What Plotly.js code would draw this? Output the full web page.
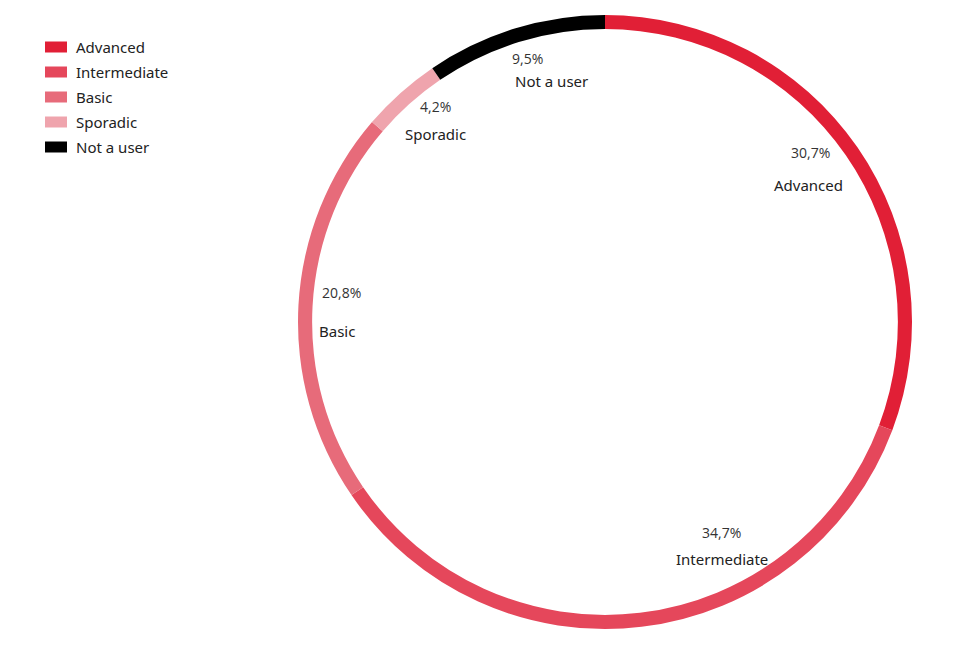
<!DOCTYPE html>
<html>
<head>
<meta charset="utf-8">
<script src="https://cdn.plot.ly/plotly-3.0.1.min.js"></script>
<style>html,body{margin:0;padding:0;background:#fff;}#chart{width:960px;height:648px;}</style>
</head>
<body>
<div id="chart"></div>
<script>
const labels = ["Advanced", "Intermediate", "Basic", "Sporadic", "Not a user"];
const values = [30.7, 34.7, 20.8, 4.2, 9.5];
const colors = ["#E11F36", "#E5475B", "#E76B7A", "#EFA4AD", "#000000"];

// label placement (paper coords) for in-ring annotations
const pctPos = [[0.844, 0.764], [0.752, 0.179], [0.356, 0.548], [0.454, 0.835], [0.549, 0.909]];
const namePos = [[0.842, 0.715], [0.752, 0.137], [0.351, 0.489], [0.454, 0.793], [0.574, 0.875]];

const fmt = v => v.toFixed(1).replace('.', ',') + '%';

const annotations = [];
const shapes = [];
labels.forEach((l, i) => {
  annotations.push({xref: 'paper', yref: 'paper', x: pctPos[i][0], y: pctPos[i][1], text: fmt(values[i]),
    showarrow: false, xanchor: 'center', yanchor: 'middle', font: {family: 'Open Sans, sans-serif', size: 14, color: '#333'}});
  annotations.push({xref: 'paper', yref: 'paper', x: namePos[i][0], y: namePos[i][1], text: l,
    showarrow: false, xanchor: 'center', yanchor: 'middle', font: {family: 'Noto Sans, sans-serif', size: 15, color: '#222'}});
  // custom legend
  const yc = 648 - (47 + 25 * i);
  shapes.push({type: 'rect', xref: 'paper', yref: 'paper', x0: 45 / 960, x1: 67 / 960,
    y0: (yc - 5.5) / 648, y1: (yc + 5.5) / 648, fillcolor: colors[i], line: {width: 0}});
  annotations.push({xref: 'paper', yref: 'paper', x: 74 / 960, y: yc / 648, text: l, showarrow: false,
    xanchor: 'left', yanchor: 'middle', font: {family: 'Noto Sans, sans-serif', size: 15, color: '#222'}});
});

const data = [{
  type: 'pie',
  labels: labels,
  values: values,
  sort: false,
  direction: 'clockwise',
  rotation: 0,
  hole: 0.954,
  marker: {colors: colors, line: {width: 0}},
  textinfo: 'none',
  hoverinfo: 'label+percent',
  showlegend: false,
  domain: {x: [298 / 960, 912 / 960], y: [(648 - 629) / 648, (648 - 15) / 648]}
}];

const layout = {
  width: 960, height: 648,
  margin: {l: 0, r: 0, t: 0, b: 0},
  paper_bgcolor: '#fff',
  showlegend: false,
  annotations: annotations,
  shapes: shapes
};

Plotly.newPlot('chart', data, layout, {displayModeBar: false, staticPlot: true});
</script>
</body>
</html>
